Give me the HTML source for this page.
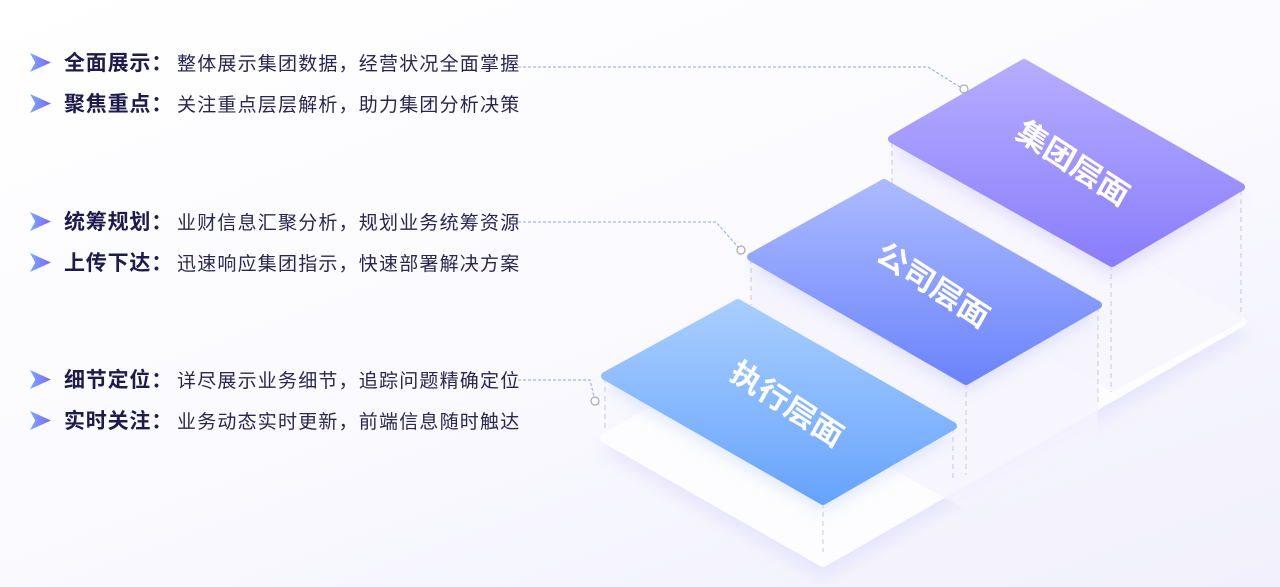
<!DOCTYPE html>
<html><head><meta charset="utf-8"><style>
html,body{margin:0;padding:0}
body{width:1280px;height:587px;overflow:hidden;position:relative;background:linear-gradient(160deg,#ffffff 0%,#fbfbff 45%,#f1f0fc 100%);font-family:"Liberation Sans","Noto Sans CJK SC",sans-serif}
.row{position:absolute;left:30px;height:28px;display:flex;align-items:center;white-space:nowrap}
.ar{width:21px;height:21px;margin-right:13px}
.t{font-size:21px;font-weight:bold;color:#1e1a4d;letter-spacing:0.8px}
.d{font-size:19px;color:#2a2650;letter-spacing:1.2px;margin-left:4px}
svg.main{position:absolute;left:0;top:0}
</style></head><body>
<svg class="main" width="1280" height="587" viewBox="0 0 1280 587">
<defs>
<linearGradient id="g1" x1="0" y1="0" x2="0" y2="1"><stop offset="0" stop-color="#b6acff"/><stop offset="1" stop-color="#8a7efb"/></linearGradient>
<linearGradient id="g2" x1="0" y1="0" x2="0" y2="1"><stop offset="0" stop-color="#abbaff"/><stop offset="1" stop-color="#6c84fb"/></linearGradient>
<linearGradient id="g3" x1="0" y1="0" x2="0" y2="1"><stop offset="0" stop-color="#a8ceff"/><stop offset="1" stop-color="#68a4fc"/></linearGradient>
<linearGradient id="ga" x1="0" y1="0" x2="1" y2="0"><stop offset="0" stop-color="#7aa8ff"/><stop offset="1" stop-color="#7d66f5"/></linearGradient>
<filter id="bl" x="-20%" y="-20%" width="140%" height="140%"><feGaussianBlur stdDeviation="8"/></filter>
</defs>
<polygon points="600,450 823,580 1250,335 1030,210" fill="#e4e1fb" filter="url(#bl)" opacity="0.8"/>
<polygon points="605,438 823,562 1241,322 1024,200" fill="#fdfdff" stroke="#fdfdff" stroke-width="10" stroke-linejoin="round"/>
<polygon points="892,140 1112,265 1241,190 1241,322 1112,392 892,270" fill="#f6f5fe" opacity="0.8"/>
<polygon points="751,258 966,382 1098,306 1098,440 966,510 751,390" fill="#f5f4fe" opacity="0.8"/>
<g stroke="#c9c9d6" stroke-width="1" stroke-dasharray="5,4">
<line x1="892" y1="142" x2="892" y2="185"/><line x1="1241" y1="190" x2="1241" y2="316"/><line x1="1111" y1="265" x2="1111" y2="392"/>
<line x1="751" y1="259" x2="751" y2="305"/><line x1="1098" y1="307" x2="1098" y2="404"/><line x1="966" y1="383" x2="966" y2="475"/>
<line x1="605" y1="378" x2="605" y2="430"/><line x1="953" y1="428" x2="953" y2="478"/><line x1="823" y1="503" x2="823" y2="552"/>
</g>
<polygon points="892,150 1112,275 1241,197 1024,73" fill="#c9c3f6" filter="url(#bl)" opacity="0.5"/>
<polygon points="751,268 966,392 1098,315 884,193" fill="#c3c8f6" filter="url(#bl)" opacity="0.5"/>
<polygon points="605,386 823,511 953,436 738,313" fill="#c3d2f6" filter="url(#bl)" opacity="0.5"/>
<polygon points="1024,63 1241,187 1112,263 892,139" fill="url(#g1)" stroke="url(#g1)" stroke-width="8" stroke-linejoin="round"/>
<polygon points="884,183 1098,305 966,381 751,257" fill="url(#g2)" stroke="url(#g2)" stroke-width="8" stroke-linejoin="round"/>
<polygon points="738,303 953,426 823,501 605,376" fill="url(#g3)" stroke="url(#g3)" stroke-width="8" stroke-linejoin="round"/>
<g fill="#fff" font-family="'Liberation Sans','Noto Sans CJK SC',sans-serif" font-size="32" font-weight="bold" text-anchor="middle">
<text transform="matrix(0.84 0.55 -0.45 0.8 1068 172)">集团层面</text>
<text transform="matrix(0.84 0.55 -0.45 0.8 928 294)">公司层面</text>
<text transform="matrix(0.84 0.55 -0.45 0.8 782 413)">执行层面</text>
</g>
<g fill="none" stroke="#8fa3f5" stroke-width="1" stroke-dasharray="3,2">
<polyline points="518,67 928,67 960,87"/>
<polyline points="518,222 716,222 738,247"/>
<polyline points="518,380 590,380 594,397"/>
</g>
<g fill="#fff" stroke="#a8a8b4" stroke-width="1.2">
<circle cx="964" cy="89" r="4"/><circle cx="741" cy="250" r="4"/><circle cx="595" cy="401" r="4"/>
</g>
</svg>
<svg width="0" height="0" style="position:absolute"><defs><linearGradient id="ga2" x1="0" y1="0" x2="1" y2="0"><stop offset="0" stop-color="#7aa8ff"/><stop offset="1" stop-color="#7d66f5"/></linearGradient></defs></svg>
<div class="row" style="top:48px"><svg class="ar" viewBox="0 0 20 20"><polygon points="0,1 20,10 0,19 5,10" fill="url(#ga2)"/></svg><span class="t">全面展示：</span><span class="d">整体展示集团数据，经营状况全面掌握</span></div>
<div class="row" style="top:89px"><svg class="ar" viewBox="0 0 20 20"><polygon points="0,1 20,10 0,19 5,10" fill="url(#ga2)"/></svg><span class="t">聚焦重点：</span><span class="d">关注重点层层解析，助力集团分析决策</span></div>
<div class="row" style="top:207px"><svg class="ar" viewBox="0 0 20 20"><polygon points="0,1 20,10 0,19 5,10" fill="url(#ga2)"/></svg><span class="t">统筹规划：</span><span class="d">业财信息汇聚分析，规划业务统筹资源</span></div>
<div class="row" style="top:248px"><svg class="ar" viewBox="0 0 20 20"><polygon points="0,1 20,10 0,19 5,10" fill="url(#ga2)"/></svg><span class="t">上传下达：</span><span class="d">迅速响应集团指示，快速部署解决方案</span></div>
<div class="row" style="top:365px"><svg class="ar" viewBox="0 0 20 20"><polygon points="0,1 20,10 0,19 5,10" fill="url(#ga2)"/></svg><span class="t">细节定位：</span><span class="d">详尽展示业务细节，追踪问题精确定位</span></div>
<div class="row" style="top:406px"><svg class="ar" viewBox="0 0 20 20"><polygon points="0,1 20,10 0,19 5,10" fill="url(#ga2)"/></svg><span class="t">实时关注：</span><span class="d">业务动态实时更新，前端信息随时触达</span></div>
</body></html>
